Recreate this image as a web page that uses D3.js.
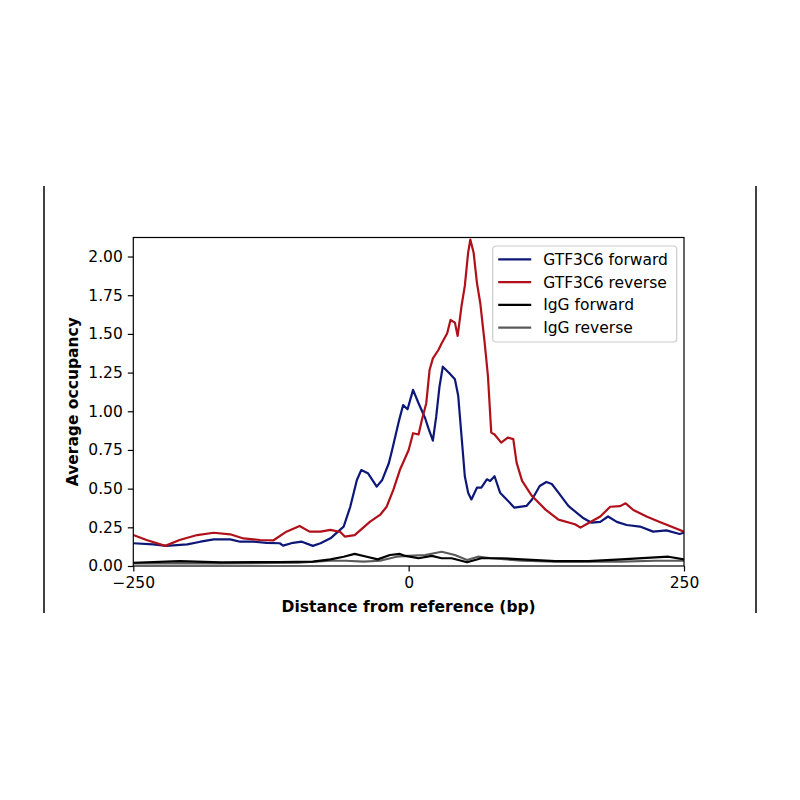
<!DOCTYPE html>
<html>
<head>
<meta charset="utf-8">
<script src="https://cdn.jsdelivr.net/npm/d3@7"></script>
<style>
  html, body { margin: 0; padding: 0; background: #fff; }
  svg { display: block; font-family: "DejaVu Sans", sans-serif; }
</style>
</head>
<body>
<div id="chart"></div>
<script>
// Series (distance in bp, average occupancy)
var fwdX = [-250,-232,-220,-201,-189,-177,-162,-153,-141,-129,-117,-114,-105,-97,-87,-80,-71,-59,-53,-47,-43,-37,-29,-24,-18,-15,-9,-5,-1,4,9,15,18,22,25,28,31,37,42,45,48,51,54,57,62,66,71,74,78,83,89,96,107,112,119,125,130,136,145,158,166,174,181,189,198,210,222,234,246,250];
var fwdY = [.147,.14,.13,.14,.157,.172,.172,.157,.157,.15,.147,.132,.15,.157,.13,.147,.179,.254,.383,.556,.62,.60,.513,.556,.664,.75,.933,1.04,1.013,1.138,1.052,.955,.89,.81,.965,1.159,1.288,1.246,1.207,1.1,.84,.58,.474,.43,.506,.506,.56,.55,.58,.474,.43,.377,.388,.43,.517,.543,.53,.474,.388,.312,.28,.285,.32,.285,.265,.255,.222,.23,.207,.215];

var revX = [-250,-238,-221,-208,-192,-177,-162,-150,-135,-123,-111,-99,-90,-80,-71,-62,-58,-49,-35,-26,-20,-14,-8,0,4,9,12,16,19,22,27,30,35,38,42,44.5,48,51,54,56,59,62,65,69,72,75,78,84,90,95,98,103,112,124,136,151,156,163,174,183,192,197,204,216,228,240,250];
var revY = [.20,.168,.13,.168,.20,.215,.205,.178,.168,.165,.222,.258,.222,.222,.233,.22,.19,.20,.287,.33,.383,.49,.62,.75,.858,.85,.944,1.052,1.267,1.342,1.396,1.44,1.504,1.59,1.573,1.487,1.68,1.81,2.025,2.11,2.025,1.83,1.70,1.443,1.228,.862,.85,.797,.83,.82,.668,.55,.452,.366,.30,.27,.248,.276,.32,.383,.387,.405,.362,.32,.285,.25,.222];

var igfX = [-250,-208,-170,-117,-87,-71,-59,-49,-38,-28,-17,-8,-3,9,21,30,39,53,66,84,103,133,163,193,224,236,250];
var igfY = [.021,.032,.024,.026,.028,.043,.06,.078,.06,.043,.071,.078,.065,.05,.065,.05,.05,.024,.05,.05,.043,.032,.032,.043,.056,.06,.043];

var igrX = [-250,-170,-100,-71,-57,-41,-26,-11,0,15,30,42,53,63,75,103,133,163,193,224,250];
var igrY = [.017,.017,.021,.034,.034,.028,.034,.06,.065,.071,.092,.071,.039,.06,.05,.034,.028,.028,.028,.034,.034];

var seriesNames = ["GTF3C6 forward", "GTF3C6 reverse", "IgG forward", "IgG reverse"];
var seriesColors = ["#0d1778", "#b0101a", "#000000", "#5a5a5a"];
var xTicks = [-250, 0, 250];
var yTicks = [0, 0.25, 0.5, 0.75, 1.0, 1.25, 1.5, 1.75, 2.0];

var svgWidth = 800;
var svgHeight = 800;

// plot box, in page pixels
var margin = { top: 237.5, right: 116, bottom: 234, left: 133.3 };
var chartWidth = svgWidth - margin.left - margin.right;
var chartHeight = svgHeight - margin.top - margin.bottom;

var svg = d3.select("#chart")
  .append("svg")
  .attr("width", svgWidth)
  .attr("height", svgHeight);

// frame lines at both sides of the picture
svg.append("line").attr("x1", 44).attr("x2", 44).attr("y1", 186).attr("y2", 613)
  .attr("stroke", "#111").attr("stroke-width", 1.6);
svg.append("line").attr("x1", 756).attr("x2", 756).attr("y1", 186).attr("y2", 613)
  .attr("stroke", "#111").attr("stroke-width", 1.6);

var chartGroup = svg.append("g")
  .attr("transform", `translate(${margin.left}, ${margin.top})`);

var x = d3.scaleLinear().domain([-250, 250]).range([0, chartWidth]);
var y = d3.scaleLinear().domain([0, 2.123]).range([chartHeight, 0]);

chartGroup.append("clipPath").attr("id", "clip")
  .append("rect").attr("width", chartWidth).attr("height", chartHeight);

var series = [
  { name: seriesNames[0], color: seriesColors[0], xs: fwdX, ys: fwdY },
  { name: seriesNames[1], color: seriesColors[1], xs: revX, ys: revY },
  { name: seriesNames[2], color: seriesColors[2], xs: igfX, ys: igfY },
  { name: seriesNames[3], color: seriesColors[3], xs: igrX, ys: igrY }
];

var line = d3.line()
  .x(function (d) { return x(d[0]); })
  .y(function (d) { return y(d[1]); });

// draw IgG first so the GTF3C6 traces sit on top
var order = [3, 2, 0, 1];
order.forEach(function (i) {
  var s = series[i];
  var pts = s.xs.map(function (v, j) { return [v, s.ys[j]]; });
  chartGroup.append("path")
    .datum(pts)
    .attr("clip-path", "url(#clip)")
    .attr("fill", "none")
    .attr("stroke", s.color)
    .attr("stroke-width", 2.2)
    .attr("stroke-linejoin", "round")
    .attr("d", line);
});

// axes
var xAxis = d3.axisBottom(x)
  .tickValues(xTicks)
  .tickSize(5.5)
  .tickPadding(5)
  .tickFormat(function (d) { return d < 0 ? "\u2212" + Math.abs(d) : d; });

var yAxis = d3.axisLeft(y)
  .tickValues(yTicks)
  .tickSize(5.5)
  .tickPadding(5)
  .tickFormat(d3.format(".2f"));

var gx = chartGroup.append("g")
  .attr("transform", "translate(0," + chartHeight + ")")
  .call(xAxis);
var gy = chartGroup.append("g").call(yAxis);

[gx, gy].forEach(function (g) {
  g.select(".domain").remove();
  g.selectAll(".tick line").attr("stroke", "#000").attr("stroke-width", 1.2);
  g.selectAll(".tick text")
    .attr("fill", "#000")
    .style("font-size", "15.5px")
    .style("font-family", "DejaVu Sans");
});

// spines
chartGroup.append("rect")
  .attr("width", chartWidth)
  .attr("height", chartHeight)
  .attr("fill", "none")
  .attr("stroke", "#000")
  .attr("stroke-width", 1.2);

// axis titles
chartGroup.append("text")
  .attr("x", chartWidth / 2)
  .attr("y", chartHeight + 45.5)
  .attr("text-anchor", "middle")
  .style("font-size", "15.5px")
  .style("font-weight", "bold")
  .text("Distance from reference (bp)");

chartGroup.append("text")
  .attr("transform", "translate(" + (-55.5) + "," + (chartHeight / 2) + ") rotate(-90)")
  .attr("text-anchor", "middle")
  .style("font-size", "15.5px")
  .style("font-weight", "bold")
  .text("Average occupancy");

// legend
var legend = svg.append("g").attr("transform", "translate(492.7, 246)");
legend.append("rect")
  .attr("width", 184)
  .attr("height", 96)
  .attr("rx", 3)
  .attr("fill", "#fff")
  .attr("fill-opacity", 0.85)
  .attr("stroke", "#cccccc")
  .attr("stroke-width", 1.2);

var rows = legend.selectAll("g.row")
  .data(series)
  .enter()
  .append("g")
  .attr("class", "row")
  .attr("transform", function (d, i) { return "translate(0," + (13.3 + i * 22.8) + ")"; });

rows.append("line")
  .attr("x1", 5.5).attr("x2", 38.5)
  .attr("stroke", function (d) { return d.color; })
  .attr("stroke-width", 2.2);

rows.append("text")
  .attr("x", 50.5)
  .attr("dy", "0.35em")
  .style("font-size", "15.5px")
  .text(function (d) { return d.name; });
</script>
</body>
</html>
